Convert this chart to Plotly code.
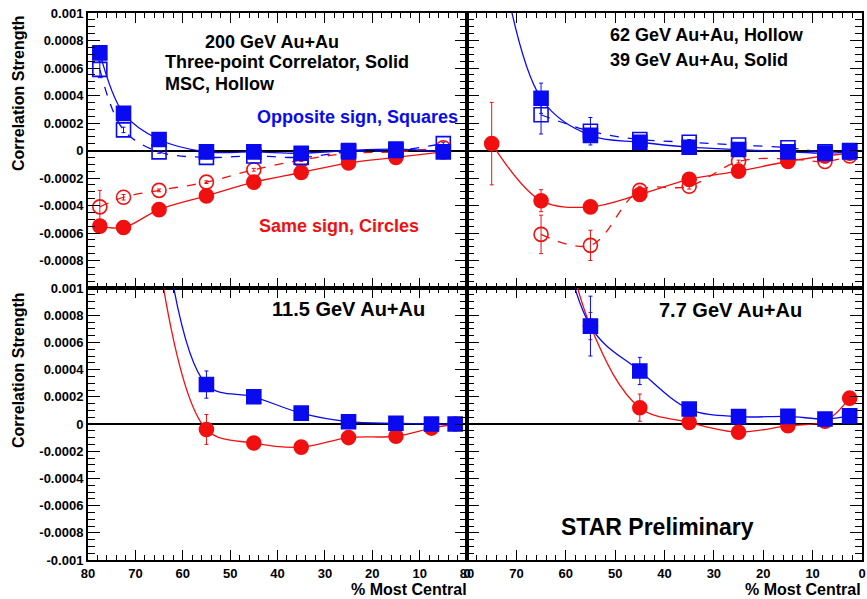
import plotly.graph_objects as go

# ---------------- data ----------------
cent_200 = [77.5, 72.5, 65, 55, 45, 35, 25, 15, 5]
opp_3p_200 = [0.00071, 0.00027, 0.00008, -0.00001, -0.00001, -0.00002, 0.0, 0.00001, -0.00001]
opp_msc_200 = [0.00059, 0.00015, -0.00001, -0.00005, -0.00004, -0.00005, -0.00001, 0.0, 0.00005]
same_3p_200 = [-0.00055, -0.00056, -0.00043, -0.00033, -0.00023, -0.00016, -0.00009, -0.00005, -0.00001]
same_msc_200 = [-0.00041, -0.00034, -0.00029, -0.00023, -0.00014, -0.00007, -0.00002, -0.00001, 0.00002]
err_opp_msc_200 = [0.00006, 0.00002, 0.00001, 0.00001, 0.00001, 0.00001, 0.00001, 0.00001, 0.00001]
err_same_msc_200 = [0.00012, 0.00002, 0.00001, 0.00001, 0.00001, 0.00001, 0.00001, 0.00001, 0.00001]

cent_39 = [75, 65, 55, 45, 35, 25, 15, 7.5, 2.5]
opp_39 = [0.0018, 0.00038, 0.00011, 0.00006, 0.000024, 0.000007, -0.00001, -0.00002, -0.00001]
same_39 = [0.00005, -0.000365, -0.00041, -0.00032, -0.00021, -0.00015, -0.00008, -0.00004, -0.00002]
err_opp_39 = [0.0001, 0.00011, 0.00004, 0.00002, 0.00002, 0.00002, 0.00001, 0.00001, 0.00001]
err_same_39 = [0.0003, 0.00008, 0.00002, 0.00002, 0.00002, 0.00001, 0.00001, 0.00001, 0.00001]

cent_62 = [65, 55, 45, 35, 25, 15, 7.5, 2.5]
opp_62 = [0.00026, 0.00014, 0.00008, 0.00006, 0.00004, 0.00002, -0.00001, 0.0]
same_62 = [-0.00061, -0.00069, -0.00029, -0.00026, -0.00008, -0.00006, -0.00008, -0.00004]
err_opp_62 = [0.00014, 0.0001, 0.00002, 0.00002, 0.00001, 0.00001, 0.00001, 0.00001]
err_same_62 = [0.00014, 0.00011, 0.00003, 0.00002, 0.00001, 0.00001, 0.00001, 0.00001]

cent_11 = [65, 55, 45, 35, 25, 15, 7.5, 2.5]
opp_11 = [0.0017, 0.00029, 0.0002, 0.00008, 0.000017, 0.000005, 0.0, 0.0]
same_11 = [0.0012, -0.00004, -0.00014, -0.00017, -0.0001, -0.00009, -0.00003, 0.0]
err_opp_11 = [0.0001, 0.0001, 0.00002, 0.00002, 0.00001, 0.00001, 0.00001, 0.00001]
err_same_11 = [0.0001, 0.00011, 0.00002, 0.00002, 0.00001, 0.00001, 0.00001, 0.00001]

cent_7 = [65, 55, 45, 35, 25, 15, 7.5, 2.5]
opp_7 = [0.0022, 0.00072, 0.00039, 0.00011, 0.000054, 0.000056, 0.000037, 0.00006]
same_7 = [0.0022, 0.00072, 0.00012, 0.000012, -0.00006, -0.000012, 0.00002, 0.00019]
err_opp_7 = [0.0002, 0.00022, 0.0001, 0.00002, 0.00002, 0.00002, 0.00001, 0.00001]
err_same_7 = [0.0002, 0.0001, 0.0001, 0.00002, 0.00002, 0.00002, 0.00001, 0.00001]

x_ticks = [80, 70, 60, 50, 40, 30, 20, 10, 0]
x_ticklabels = ["80", "70", "60", "50", "40", "30", "20", "10", "0"]
y_ticks_top = [0.001, 0.0008, 0.0006, 0.0004, 0.0002, 0, -0.0002, -0.0004, -0.0006, -0.0008]
y_ticklabels_top = ["0.001", "0.0008", "0.0006", "0.0004", "0.0002", "0", "-0.0002", "-0.0004", "-0.0006", "-0.0008"]
y_ticks_bot = [0.001, 0.0008, 0.0006, 0.0004, 0.0002, 0, -0.0002, -0.0004, -0.0006, -0.0008, -0.001]
y_ticklabels_bot = ["0.001", "0.0008", "0.0006", "0.0004", "0.0002", "0", "-0.0002", "-0.0004", "-0.0006", "-0.0008", "-0.001"]

BLUE = "#0a0af0"
RED = "#f01010"
FONT = "Liberation Sans, Arial, sans-serif"

fig = go.Figure()


def add(x, y, err, color, symbol, dash, xa, ya):
    fig.add_trace(go.Scatter(
        x=x, y=y, xaxis=xa, yaxis=ya, mode="lines+markers",
        line=dict(color=color, width=1.3, shape="spline", smoothing=1.0, dash=dash),
        marker=dict(symbol=symbol, size=14, color=color,
                    line=dict(color=color, width=1.6)),
        error_y=dict(type="data", array=err, color=color, thickness=1, width=2),
        showlegend=False, hoverinfo="skip",
    ))


# top-left: 200 GeV
add(cent_200, same_msc_200, err_same_msc_200, RED, "circle-open", "dash", "x", "y")
add(cent_200, same_3p_200, None, RED, "circle", "solid", "x", "y")
add(cent_200, opp_msc_200, err_opp_msc_200, BLUE, "square-open", "dash", "x", "y")
add(cent_200, opp_3p_200, None, BLUE, "square", "solid", "x", "y")
# top-right: 62 hollow, 39 solid
add(cent_62, same_62, err_same_62, RED, "circle-open", "dash", "x2", "y2")
add(cent_39, same_39, err_same_39, RED, "circle", "solid", "x2", "y2")
add(cent_62, opp_62, err_opp_62, BLUE, "square-open", "dash", "x2", "y2")
add(cent_39, opp_39, err_opp_39, BLUE, "square", "solid", "x2", "y2")
# bottom-left: 11.5
add(cent_11, same_11, err_same_11, RED, "circle", "solid", "x3", "y3")
add(cent_11, opp_11, err_opp_11, BLUE, "square", "solid", "x3", "y3")
# bottom-right: 7.7
add(cent_7, same_7, err_same_7, RED, "circle", "solid", "x4", "y4")
add(cent_7, opp_7, err_opp_7, BLUE, "square", "solid", "x4", "y4")

W, H = 867, 599
xl = [88 / W, 467 / W]
xr = [467 / W, 862 / W]
yt = [1 - 288 / H, 1 - 13 / H]
yb = [1 - 560 / H, 1 - 288 / H]

tickfont = dict(family=FONT, size=13, color="black", weight="bold")


def xaxis(domain, anchor, labels):
    return dict(domain=domain, anchor=anchor, range=[80, 0], showgrid=False, zeroline=False,
                automargin=False,
                showline=True, linecolor="black", linewidth=2, mirror="allticks",
                ticks="inside", ticklen=10, tickwidth=1.3, tickcolor="black",
                tickvals=x_ticks, ticktext=x_ticklabels, showticklabels=labels,
                tickfont=tickfont,
                minor=dict(tickmode="linear", tick0=0, dtick=2, ticklen=5, tickwidth=1,
                           tickcolor="black", ticks="inside"))


def yaxis(domain, anchor, vals, texts, labels):
    return dict(domain=domain, anchor=anchor, range=[-0.001, 0.001], showgrid=False,
                automargin=False,
                zeroline=True, zerolinecolor="black", zerolinewidth=2,
                showline=True, linecolor="black", linewidth=2, mirror="allticks",
                ticks="inside", ticklen=12, tickwidth=1.3, tickcolor="black",
                tickvals=vals, ticktext=texts, showticklabels=labels,
                tickfont=tickfont,
                minor=dict(tickmode="linear", tick0=0, dtick=0.00005, ticklen=7, tickwidth=1,
                           tickcolor="black", ticks="inside"))


fig.update_layout(
    width=W, height=H, margin=dict(l=0, r=0, t=0, b=0, autoexpand=False),
    paper_bgcolor="white", plot_bgcolor="white", hovermode=False,
    xaxis=xaxis(xl, "y", False), yaxis=yaxis(yt, "x", y_ticks_top, y_ticklabels_top, True),
    xaxis2=xaxis(xr, "y2", False), yaxis2=yaxis(yt, "x2", y_ticks_top, y_ticklabels_top, False),
    xaxis3=xaxis(xl, "y3", True), yaxis3=yaxis(yb, "x3", y_ticks_bot, y_ticklabels_bot, True),
    xaxis4=xaxis(xr, "y4", True), yaxis4=yaxis(yb, "x4", y_ticks_bot, y_ticklabels_bot, False),
)


def txt(text, x, y, size, color="black", xanchor="left", yanchor="middle", angle=0):
    fig.add_annotation(text=text, x=x / W, y=1 - y / H, xref="paper", yref="paper",
                       xanchor=xanchor, yanchor=yanchor, showarrow=False, textangle=angle,
                       font=dict(family=FONT, size=size, color=color, weight="bold"))


txt("200 GeV Au+Au", 203, 42, 18)
txt("Three-point Correlator, Solid", 163, 62, 18)
txt("MSC, Hollow", 163, 84, 18)
txt("Opposite sign, Squares", 255, 117, 18, BLUE)
txt("Same sign, Circles", 257, 226, 18, RED)
txt("62 GeV Au+Au, Hollow", 608, 35, 18)
txt("39 GeV Au+Au, Solid", 608, 60, 18)
txt("11.5 GeV Au+Au", 270, 309, 20)
txt("7.7 GeV Au+Au", 657, 310, 20)
txt("STAR Preliminary", 559, 527, 23)
txt("% Most Central", 469, 589, 16, xanchor="right")
txt("% Most Central", 863, 589, 16, xanchor="right")
txt("Correlation Strength", 18, 93, 16, xanchor="center", yanchor="middle", angle=-90)
txt("Correlation Strength", 18, 370, 16, xanchor="center", yanchor="middle", angle=-90)

fig.write_html("out.html", config={"displayModeBar": False},
               post_script="document.body.style.margin='0';document.body.style.overflow='hidden';")
